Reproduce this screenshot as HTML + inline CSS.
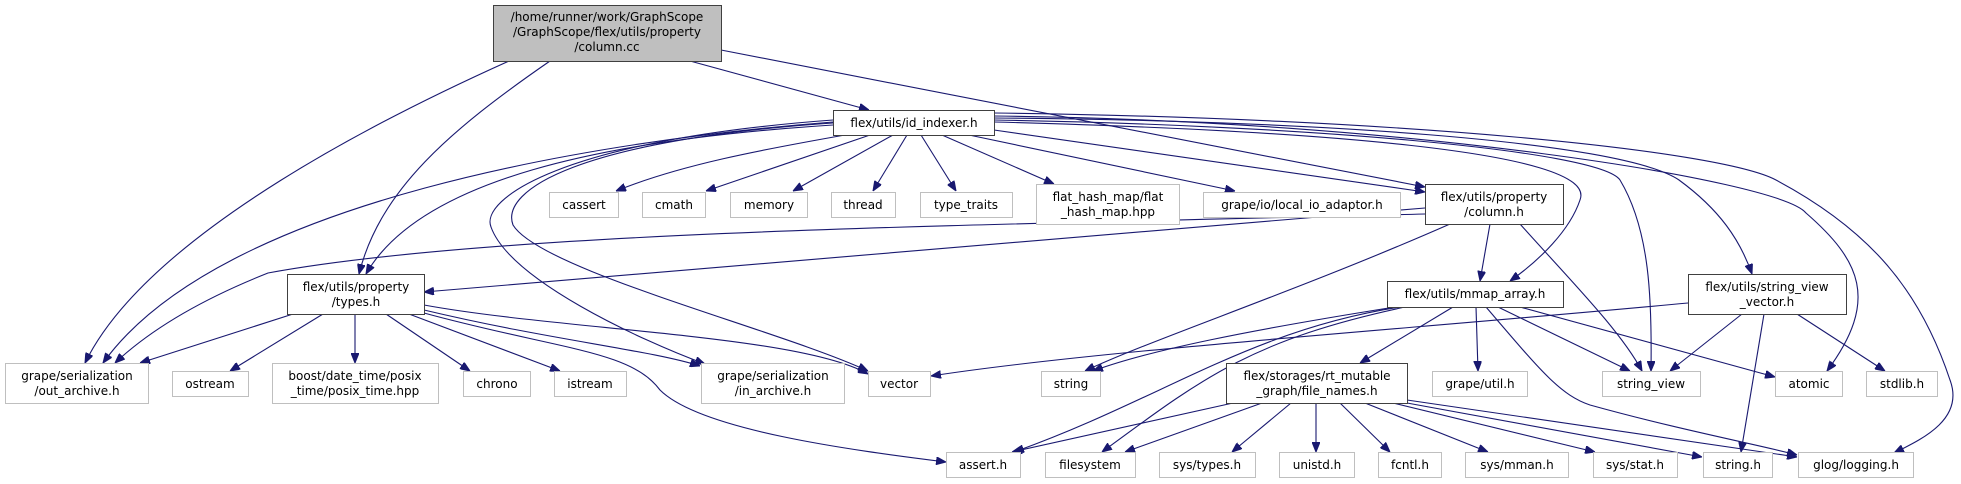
<!DOCTYPE html>
<html><head><meta charset="utf-8"><style>
html,body{margin:0;padding:0;background:#fff;}
svg{display:block;}
text{font-family:"DejaVu Sans","Liberation Sans",sans-serif;font-size:12px;fill:#000;text-anchor:middle;}
.l{fill:#fff;stroke:#bfbfbf;stroke-width:1;}
.n{fill:#fff;stroke:#404040;stroke-width:1;}
.e{fill:none;stroke:#191970;stroke-width:1.1;}
</style></head><body>
<svg width="1961" height="484" viewBox="0 0 1961 484" xmlns="http://www.w3.org/2000/svg">
<defs><marker id="a" markerWidth="10" markerHeight="8" refX="10" refY="4" orient="auto" markerUnits="userSpaceOnUse"><path d="M0,0 L10,4 L0,8 z" fill="#191970" stroke="#191970"/></marker></defs>
<g marker-end="url(#a)">
<!-- root -->
<path class="e" d="M509,61 C400,110 150,230 85,363"/>
<path class="e" d="M550,61 C450,130 380,190 359,274"/>
<path class="e" d="M690,61 L869,110"/>
<path class="e" d="M721,50 L1425,187"/>
<!-- id_indexer -->
<path class="e" d="M845,135 C760,150 680,165 616,191"/>
<path class="e" d="M870,135 L706,191"/>
<path class="e" d="M893,135 L793,191"/>
<path class="e" d="M907,135 L873,191"/>
<path class="e" d="M921,135 L956,191"/>
<path class="e" d="M942,135 L1054,184"/>
<path class="e" d="M969,135 L1235,191"/>
<path class="e" d="M994,130 L1425,192"/>
<path class="e" d="M833,125 C600,140 420,180 366,274"/>
<path class="e" d="M833,122 C600,140 220,200 103,363"/>
<path class="e" d="M833,120 C560,140 480,200 491,227 C510,280 640,340 705,364"/>
<path class="e" d="M833,123 C580,140 500,190 513,225 C540,270 780,330 868,371"/>
<path class="e" d="M994,122 C1300,130 1600,150 1580,200 C1570,230 1540,260 1510,281"/>
<path class="e" d="M994,120 C1300,125 1600,150 1620,180 C1650,230 1652,300 1651,371"/>
<path class="e" d="M994,118 C1300,120 1620,140 1679,180 C1720,210 1740,240 1752,274"/>
<path class="e" d="M994,116 C1400,120 1780,180 1806,213 C1860,260 1880,300 1827,371"/>
<path class="e" d="M994,113 C1400,118 1720,150 1776,180 C1870,230 1920,290 1950,380 C1965,420 1920,440 1894,453"/>
<!-- column.h -->
<path class="e" d="M1425,208 L424,292"/>
<path class="e" d="M1425,214 C1000,225 500,230 268,273 C200,300 150,330 115,363"/>
<path class="e" d="M1450,224 C1300,290 1150,340 1085,371"/>
<path class="e" d="M1490,224 L1480,281"/>
<path class="e" d="M1520,224 C1570,280 1620,330 1642,371"/>
<!-- types.h -->
<path class="e" d="M293,314 L140,363"/>
<path class="e" d="M323,314 L230,371"/>
<path class="e" d="M355,314 L355,363"/>
<path class="e" d="M386,314 L470,371"/>
<path class="e" d="M409,314 L560,371"/>
<path class="e" d="M424,305 C560,330 800,335 868,374"/>
<path class="e" d="M424,310 C550,340 650,350 700,366"/>
<path class="e" d="M424,313 C560,350 630,350 660,390 C700,430 850,450 946,462"/>
<!-- mmap -->
<path class="e" d="M1395,307 C1250,330 1150,350 1093,371"/>
<path class="e" d="M1400,307 C1250,330 1160,400 1014,452"/>
<path class="e" d="M1405,307 C1250,340 1200,380 1102,452"/>
<path class="e" d="M1453,307 L1360,363"/>
<path class="e" d="M1476,307 L1478,371"/>
<path class="e" d="M1498,307 L1630,371"/>
<path class="e" d="M1520,307 L1775,377"/>
<path class="e" d="M1486,307 C1540,370 1560,395 1590,405 C1680,430 1760,445 1797,455"/>
<!-- string_view_vector -->
<path class="e" d="M1688,303 C1400,330 1100,350 931,376"/>
<path class="e" d="M1742,314 L1670,371"/>
<path class="e" d="M1764,314 L1741,452"/>
<path class="e" d="M1797,314 L1885,371"/>
<!-- file_names -->
<path class="e" d="M1233,403 L1012,452"/>
<path class="e" d="M1262,403 L1125,452"/>
<path class="e" d="M1291,403 L1232,452"/>
<path class="e" d="M1316,403 L1316,452"/>
<path class="e" d="M1340,403 L1390,452"/>
<path class="e" d="M1365,403 L1488,452"/>
<path class="e" d="M1393,403 L1595,452"/>
<path class="e" d="M1407,403 L1702,457"/>
<path class="e" d="M1407,400 L1797,457"/>
</g>
<!-- nodes -->
<rect x="493.5" y="5.5" width="228" height="56" fill="#bfbfbf" stroke="#404040"/>
<text x="607" y="21">/home/runner/work/GraphScope</text>
<text x="607" y="36">/GraphScope/flex/utils/property</text>
<text x="607" y="51">/column.cc</text>

<rect class="n" x="833.5" y="110.5" width="161" height="25"/><text x="914" y="127">flex/utils/id_indexer.h</text>

<rect class="l" x="549.5" y="192.5" width="69" height="25"/><text x="584" y="209">cassert</text>
<rect class="l" x="642.5" y="192.5" width="63" height="25"/><text x="674" y="209">cmath</text>
<rect class="l" x="730.5" y="192.5" width="77" height="25"/><text x="769" y="209">memory</text>
<rect class="l" x="831.5" y="192.5" width="64" height="25"/><text x="863" y="209">thread</text>
<rect class="l" x="920.5" y="192.5" width="92" height="25"/><text x="966" y="209">type_traits</text>
<rect class="l" x="1036.5" y="184.5" width="143" height="40"/><text x="1108" y="201">flat_hash_map/flat</text><text x="1108" y="216">_hash_map.hpp</text>
<rect class="l" x="1203.5" y="192.5" width="197" height="25"/><text x="1302" y="209">grape/io/local_io_adaptor.h</text>
<rect class="n" x="1425.5" y="184.5" width="138" height="40"/><text x="1494" y="201">flex/utils/property</text><text x="1494" y="216">/column.h</text>

<rect class="n" x="287.5" y="274.5" width="137" height="40"/><text x="356" y="291">flex/utils/property</text><text x="356" y="306">/types.h</text>
<rect class="n" x="1387.5" y="281.5" width="176" height="26"/><text x="1475" y="298">flex/utils/mmap_array.h</text>
<rect class="n" x="1688.5" y="274.5" width="158" height="40"/><text x="1767" y="291">flex/utils/string_view</text><text x="1767" y="306">_vector.h</text>

<rect class="l" x="5.5" y="363.5" width="143" height="40"/><text x="77" y="380">grape/serialization</text><text x="77" y="395">/out_archive.h</text>
<rect class="l" x="172.5" y="371.5" width="76" height="25"/><text x="210" y="388">ostream</text>
<rect class="l" x="272.5" y="363.5" width="166" height="40"/><text x="355" y="380">boost/date_time/posix</text><text x="355" y="395">_time/posix_time.hpp</text>
<rect class="l" x="463.5" y="371.5" width="67" height="25"/><text x="497" y="388">chrono</text>
<rect class="l" x="554.5" y="371.5" width="72" height="25"/><text x="590" y="388">istream</text>
<rect class="l" x="701.5" y="363.5" width="143" height="40"/><text x="773" y="380">grape/serialization</text><text x="773" y="395">/in_archive.h</text>
<rect class="l" x="868.5" y="371.5" width="62" height="25"/><text x="899" y="388">vector</text>
<rect class="l" x="1041.5" y="371.5" width="59" height="25"/><text x="1071" y="388">string</text>
<rect class="n" x="1226.5" y="363.5" width="181" height="40"/><text x="1317" y="380">flex/storages/rt_mutable</text><text x="1317" y="395">_graph/file_names.h</text>
<rect class="l" x="1432.5" y="371.5" width="95" height="25"/><text x="1480" y="388">grape/util.h</text>
<rect class="l" x="1602.5" y="371.5" width="98" height="25"/><text x="1651" y="388">string_view</text>
<rect class="l" x="1775.5" y="371.5" width="67" height="25"/><text x="1809" y="388">atomic</text>
<rect class="l" x="1866.5" y="371.5" width="71" height="25"/><text x="1902" y="388">stdlib.h</text>

<rect class="l" x="946.5" y="452.5" width="74" height="25"/><text x="983" y="469">assert.h</text>
<rect class="l" x="1045.5" y="452.5" width="90" height="25"/><text x="1090" y="469">filesystem</text>
<rect class="l" x="1159.5" y="452.5" width="96" height="25"/><text x="1207" y="469">sys/types.h</text>
<rect class="l" x="1279.5" y="452.5" width="75" height="25"/><text x="1317" y="469">unistd.h</text>
<rect class="l" x="1378.5" y="452.5" width="63" height="25"/><text x="1410" y="469">fcntl.h</text>
<rect class="l" x="1465.5" y="452.5" width="103" height="25"/><text x="1517" y="469">sys/mman.h</text>
<rect class="l" x="1593.5" y="452.5" width="84" height="25"/><text x="1635" y="469">sys/stat.h</text>
<rect class="l" x="1703.5" y="452.5" width="69" height="25"/><text x="1738" y="469">string.h</text>
<rect class="l" x="1798.5" y="452.5" width="115" height="25"/><text x="1856" y="469">glog/logging.h</text>
</svg>
</body></html>
